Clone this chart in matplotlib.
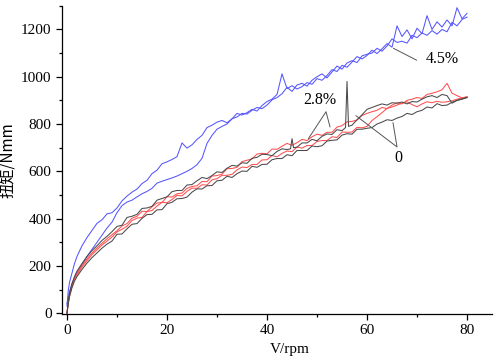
import matplotlib
matplotlib.use("Agg")
import matplotlib.pyplot as plt
from matplotlib.ticker import MultipleLocator

plt.rcParams["font.family"] = ["Liberation Serif", "Noto Sans CJK SC"]

# speed grid (rpm) shared by the curves
v = [0, 0.25, 0.5, 1, 1.5, 2, 3, 4, 5, 6, 7, 8, 9, 10,
     11, 12, 13, 14, 15, 16, 17, 18, 19, 20, 21, 22, 23, 24, 25,
     26, 27, 28, 29, 30, 31, 32, 33, 34, 35, 36, 37, 38, 39, 40,
     41, 42, 43, 44, 45, 46, 47, 48, 49, 50, 51, 52, 53, 54, 55,
     56, 57, 58, 59, 60, 61, 62, 63, 64, 65, 66, 67, 68, 69, 70,
     71, 72, 73, 74, 75, 76, 77, 78, 79, 80]

# black run 1 has a few extra samples around its spikes
v_k1 = [0, 0.25, 0.5, 1, 1.5, 2, 3, 4, 5, 6, 7, 8, 9, 10,
        11, 12, 13, 14, 15, 16, 17, 18, 19, 20, 21, 22, 23, 24, 25,
        26, 27, 28, 29, 30, 31, 32, 33, 34, 35, 36, 37, 38, 39, 40,
        41, 42, 43, 44, 44.7, 45, 45.3, 46, 47, 48, 49, 50, 51, 52, 53, 54, 55,
        55.7, 56, 56.3, 57, 58, 59, 60, 61, 62, 63, 64, 65, 66, 67, 68, 69, 70,
        71, 72, 73, 74, 75, 76, 77, 78, 79, 80]

# 4.5 %  (blue)
blue_1 = [30, 95, 130, 170, 210, 240, 285, 320, 350, 380, 395, 420, 425, 445,
          475, 495, 512, 525, 548, 562, 590, 605, 632, 640, 650, 662, 720, 698, 712,
          735, 752, 785, 795, 808, 815, 805, 822, 845, 838, 848, 862, 855, 878, 895,
          905, 925, 1012, 950, 962, 948, 958, 975, 968, 992, 985, 1005, 1030, 1022, 1048,
          1040, 1062, 1085, 1075, 1090, 1112, 1098, 1118, 1140, 1125, 1215, 1170, 1198, 1160, 1205,
          1182, 1258, 1200, 1232, 1210, 1240, 1215, 1292, 1245, 1268]
blue_2 = [40, 65, 90, 125, 150, 172, 205, 240, 270, 300, 330, 360, 385, 425,
          455, 470, 478, 492, 505, 515, 528, 550, 558, 565, 572, 580, 590, 600, 612,
          628, 655, 718, 752, 778, 790, 800, 822, 830, 845, 842, 858, 870, 865, 880,
          902, 912, 928, 955, 938, 965, 972, 960, 985, 1000, 1012, 995, 1020, 1045, 1032,
          1058, 1068, 1060, 1088, 1095, 1100, 1120, 1108, 1130, 1160, 1145, 1150, 1142, 1175, 1165,
          1185, 1175, 1195, 1180, 1200, 1190, 1230, 1215, 1242, 1252]

# 2.8 %  (red)
red_1 = [0, 45, 78, 118, 148, 170, 202, 230, 255, 276, 296, 315, 332, 349,
         369, 379, 402, 410, 431, 430, 450, 466, 468, 493, 491, 505, 508, 528, 536,
         539, 557, 556, 580, 582, 588, 611, 612, 617, 641, 647, 652, 673, 676, 674,
         694, 693, 706, 718, 710, 721, 735, 730, 746, 757, 752, 765, 765, 787, 793,
         809, 811, 817, 836, 845, 852, 858, 870, 865, 880, 890, 885, 900, 905, 912,
         908, 925, 930, 936, 945, 972, 930, 920, 910, 915]
red_2 = [0, 42, 72, 112, 142, 162, 195, 222, 248, 268, 288, 305, 322, 344,
         355, 368, 392, 402, 405, 430, 434, 453, 469, 467, 481, 498, 496, 515, 529,
         528, 543, 542, 564, 569, 583, 583, 587, 606, 618, 616, 629, 629, 648, 649,
         667, 661, 676, 686, 683, 703, 698, 709, 709, 726, 730, 730, 746, 743, 766,
         765, 766, 786, 784, 790, 815, 831, 848, 866, 872, 880, 888, 894, 882, 873,
         885, 894, 890, 896, 892, 894, 898, 905, 910, 915]

# 0  (black)
black_1 = [0, 50, 85, 125, 155, 178, 210, 240, 265, 285, 308, 325, 345, 367,
           372, 405, 410, 418, 443, 445, 452, 478, 485, 492, 514, 519, 519, 542, 544,
           560, 574, 569, 582, 598, 595, 613, 625, 622, 636, 634, 655, 659, 672, 671,
           666, 684, 695, 692, 695, 738, 700, 702, 720, 720, 735, 729, 748, 758, 756, 776, 772,
           785, 980, 790, 795, 818, 839, 862, 870, 878, 885, 880, 890, 888, 893, 885, 895, 893,
           905, 915, 920, 912, 925, 920, 888, 900, 905, 912]
black_2 = [0, 40, 70, 108, 136, 155, 185, 212, 235, 255, 275, 292, 305, 334,
           335, 357, 376, 379, 401, 417, 418, 437, 438, 463, 469, 484, 485, 491, 512,
           526, 525, 539, 540, 560, 562, 579, 574, 590, 601, 600, 621, 617, 629, 630,
           649, 654, 654, 670, 666, 688, 688, 688, 707, 704, 708, 728, 731, 733, 753,
           759, 757, 778, 778, 782, 785, 800, 808, 818, 815, 825, 832, 845, 840, 852,
           858, 872, 868, 886, 878, 880, 892, 900, 906, 912]

c_blue = "#5555ff"
c_red = "#ff4f4f"
c_black = "#4a4a4a"

fig = plt.figure(figsize=(4.96, 3.6), dpi=100)
ax = fig.add_axes([0.125, 0.128, 0.867, 0.856])

lw = 0.75
ax.plot(v, blue_1, color=c_blue, lw=lw)
ax.plot(v, blue_2, color=c_blue, lw=lw)
ax.plot(v, red_1, color=c_red, lw=lw)
ax.plot(v, red_2, color=c_red, lw=lw)
ax.plot(v_k1, black_1, color=c_black, lw=lw)
ax.plot(v, black_2, color=c_black, lw=lw)

# leader lines and labels
lead = dict(color="#555555", lw=0.7)
ax.plot([69.9, 65.3], [1070, 1120], **lead)
ax.text(75.0, 1074, "4.5%", fontsize=11.5, ha="center", va="center")

ax.plot([48.3, 51.8, 52.6], [739, 852, 788], **lead)
ax.text(50.6, 902, "2.8%", fontsize=11.5, ha="center", va="center")

ax.plot([57.8, 66.0, 65.2], [835, 703, 805], **lead)
ax.text(66.2, 658, "0", fontsize=11.5, ha="center", va="center")

ax.set_xlim(-1, 85)
ax.set_ylim(-3, 1300)
ax.xaxis.set_major_locator(MultipleLocator(20))
ax.xaxis.set_minor_locator(MultipleLocator(10))
ax.yaxis.set_major_locator(MultipleLocator(200))
ax.yaxis.set_minor_locator(MultipleLocator(100))
ax.tick_params(which="major", direction="out", length=4, width=0.9, labelsize=11)
ax.tick_params(which="minor", direction="out", length=2.5, width=0.9)

for side in ["top", "right"]:
    ax.spines[side].set_visible(False)
for side in ["left", "bottom"]:
    ax.spines[side].set_linewidth(0.9)

ax.set_ylabel("扭矩/Nmm", fontsize=11, labelpad=4,
              family=["Noto Sans CJK SC", "Liberation Serif"])
fig.text(290 / 496, 1 - 350 / 360, "V/rpm", fontsize=11, ha="center", va="center")

fig.savefig("out.png", dpi=100)
